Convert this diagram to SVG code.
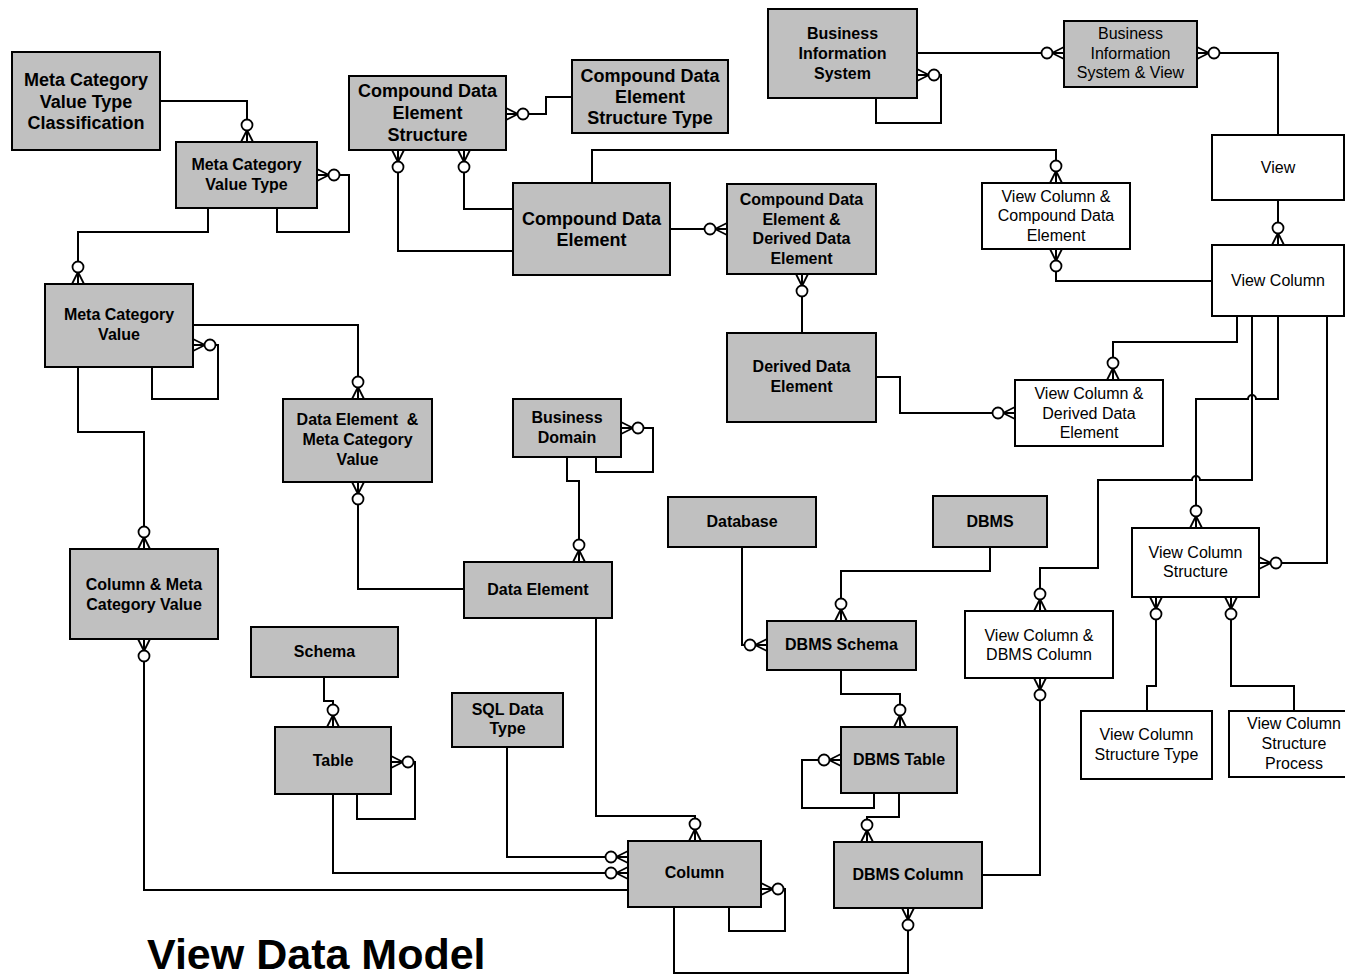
<svg xmlns="http://www.w3.org/2000/svg" xmlns:xlink="http://www.w3.org/1999/xlink" width="1345" height="978" viewBox="0 0 1345 978">
  <style>
    .box { fill: #c0c0c0; stroke: #000; stroke-width: 2; }
    .wbox { fill: #fff; stroke: #000; stroke-width: 2; }
    .lbl { font-family: "Liberation Sans", Arial, sans-serif; font-size: 16px; font-weight: bold; fill: #000; text-anchor: middle; }
    .big { font-size: 18px; }
    .reg { font-weight: normal; }
    .wire { fill: none; stroke: #000; stroke-width: 2; }
    .toe { fill: none; stroke: #000; stroke-width: 1.8; }
    .ring { fill: #fff; stroke: #000; stroke-width: 1.8; }
    .title { font-family: "Liberation Sans", Arial, sans-serif; font-size: 43px; font-weight: bold; fill: #000; }
  </style>
  <defs>
    <!-- zero-or-many end: toes touch the entity edge at the origin, entity lies in +y -->
    <g id="cf">
      <path class="toe" d="M0,-12 L-6,0 M0,-12 L0,0 M0,-12 L6,0"/>
      <circle class="ring" cx="0" cy="-17" r="5.5"/>
    </g>
  </defs>
  <rect width="1345" height="978" fill="#fff"/>

  <g id="connectors">
    <path class="wire" d="M160,101 H247 V142"/>
    <path class="wire" d="M317,175 H349 V232 H277 V208"/>
    <path class="wire" d="M208,208 V232 H78 V284"/>
    <path class="wire" d="M193,345 H218 V399 H152 V367"/>
    <path class="wire" d="M193,325 H358 V399"/>
    <path class="wire" d="M78,367 V432 H144 V549"/>
    <path class="wire" d="M358,482 V589 H464"/>
    <path class="wire" d="M144,639 V890 H628"/>
    <path class="wire" d="M506,114 H546 V97 H572"/>
    <path class="wire" d="M398,150 V251 H513"/>
    <path class="wire" d="M464,150 V209 H513"/>
    <path class="wire" d="M592,183 V150 H1056 V183"/>
    <path class="wire" d="M670,229 H727"/>
    <path class="wire" d="M802,274 V333"/>
    <path class="wire" d="M876,377 H900 V413 H1015"/>
    <path class="wire" d="M1056,249 V281 H1212"/>
    <path class="wire" d="M917,53 H1064"/>
    <path class="wire" d="M917,75 H941 V123 H876 V98"/>
    <path class="wire" d="M1197,53 H1278 V135"/>
    <path class="wire" d="M1278,200 V245"/>
    <path class="wire" d="M1237,316 V342 H1113 V380"/>
    <path class="wire" d="M1278,316 V399 H1256 A4,4 0 0 0 1248,399 H1196 V528"/>
    <path class="wire" d="M1252,316 V480 H1200 A4,4 0 0 0 1192,480 H1098 V568 H1040 V611"/>
    <path class="wire" d="M1327,316 V563 H1259"/>
    <path class="wire" d="M1156,597 V686 H1147 V711"/>
    <path class="wire" d="M1231,597 V686 H1294 V711"/>
    <path class="wire" d="M1040,678 V875 H982"/>
    <path class="wire" d="M990,547 V571 H841 V621"/>
    <path class="wire" d="M742,547 V645 H767"/>
    <path class="wire" d="M841,670 V694 H900 V727"/>
    <path class="wire" d="M841,760 H802 V808 H874 V793"/>
    <path class="wire" d="M899,793 V817 H867 V842"/>
    <path class="wire" d="M908,908 V973 H674 V907"/>
    <path class="wire" d="M596,618 V816 H695 V841"/>
    <path class="wire" d="M507,747 V857 H628"/>
    <path class="wire" d="M333,794 V873 H628"/>
    <path class="wire" d="M761,889 H785 V931 H729 V907"/>
    <path class="wire" d="M324,677 V701 H333 V727"/>
    <path class="wire" d="M391,762 H415 V819 H357 V794"/>
    <path class="wire" d="M621,428 H653 V472 H596 V457"/>
    <path class="wire" d="M567,457 V481 H579 V562"/>

    <use xlink:href="#cf" transform="translate(247,142)"/>
    <use xlink:href="#cf" transform="translate(317,175) rotate(90)"/>
    <use xlink:href="#cf" transform="translate(78,284)"/>
    <use xlink:href="#cf" transform="translate(193,345) rotate(90)"/>
    <use xlink:href="#cf" transform="translate(358,399)"/>
    <use xlink:href="#cf" transform="translate(144,549)"/>
    <use xlink:href="#cf" transform="translate(358,482) rotate(180)"/>
    <use xlink:href="#cf" transform="translate(144,639) rotate(180)"/>
    <use xlink:href="#cf" transform="translate(506,114) rotate(90)"/>
    <use xlink:href="#cf" transform="translate(398,150) rotate(180)"/>
    <use xlink:href="#cf" transform="translate(464,150) rotate(180)"/>
    <use xlink:href="#cf" transform="translate(1056,183)"/>
    <use xlink:href="#cf" transform="translate(727,229) rotate(-90)"/>
    <use xlink:href="#cf" transform="translate(802,274) rotate(180)"/>
    <use xlink:href="#cf" transform="translate(1015,413) rotate(-90)"/>
    <use xlink:href="#cf" transform="translate(1056,249) rotate(180)"/>
    <use xlink:href="#cf" transform="translate(1064,53) rotate(-90)"/>
    <use xlink:href="#cf" transform="translate(917,75) rotate(90)"/>
    <use xlink:href="#cf" transform="translate(1197,53) rotate(90)"/>
    <use xlink:href="#cf" transform="translate(1278,245)"/>
    <use xlink:href="#cf" transform="translate(1113,380)"/>
    <use xlink:href="#cf" transform="translate(1196,528)"/>
    <use xlink:href="#cf" transform="translate(1040,611)"/>
    <use xlink:href="#cf" transform="translate(1259,563) rotate(90)"/>
    <use xlink:href="#cf" transform="translate(1156,597) rotate(180)"/>
    <use xlink:href="#cf" transform="translate(1231,597) rotate(180)"/>
    <use xlink:href="#cf" transform="translate(1040,678) rotate(180)"/>
    <use xlink:href="#cf" transform="translate(841,621)"/>
    <use xlink:href="#cf" transform="translate(767,645) rotate(-90)"/>
    <use xlink:href="#cf" transform="translate(900,727)"/>
    <use xlink:href="#cf" transform="translate(841,760) rotate(-90)"/>
    <use xlink:href="#cf" transform="translate(867,842)"/>
    <use xlink:href="#cf" transform="translate(908,908) rotate(180)"/>
    <use xlink:href="#cf" transform="translate(695,841)"/>
    <use xlink:href="#cf" transform="translate(628,857) rotate(-90)"/>
    <use xlink:href="#cf" transform="translate(628,873) rotate(-90)"/>
    <use xlink:href="#cf" transform="translate(761,889) rotate(90)"/>
    <use xlink:href="#cf" transform="translate(333,727)"/>
    <use xlink:href="#cf" transform="translate(391,762) rotate(90)"/>
    <use xlink:href="#cf" transform="translate(621,428) rotate(90)"/>
    <use xlink:href="#cf" transform="translate(579,562)"/>
  </g>

  <g id="meta-category-value-type-classification">
    <rect class="box" x="12" y="52" width="148" height="98"/>
    <text class="lbl big" x="86" y="86">Meta Category</text>
    <text class="lbl big" x="86" y="107.5">Value Type</text>
    <text class="lbl big" x="86" y="129">Classification</text>
  </g>
  <g id="meta-category-value-type">
    <rect class="box" x="176" y="142" width="141" height="66"/>
    <text class="lbl" x="246.5" y="170">Meta Category</text>
    <text class="lbl" x="246.5" y="190">Value Type</text>
  </g>
  <g id="meta-category-value">
    <rect class="box" x="45" y="284" width="148" height="83"/>
    <text class="lbl" x="119" y="320">Meta Category</text>
    <text class="lbl" x="119" y="339.5">Value</text>
  </g>
  <g id="data-element-meta-category-value">
    <rect class="box" x="283" y="399" width="149" height="83"/>
    <text class="lbl" x="357.5" y="425" xml:space="preserve">Data Element  &amp;</text>
    <text class="lbl" x="357.5" y="445">Meta Category</text>
    <text class="lbl" x="357.5" y="465">Value</text>
  </g>
  <g id="column-meta-category-value">
    <rect class="box" x="70" y="549" width="148" height="90"/>
    <text class="lbl" x="144" y="589.5">Column &amp; Meta</text>
    <text class="lbl" x="144" y="609.5">Category Value</text>
  </g>
  <g id="compound-data-element-structure">
    <rect class="box" x="349" y="76" width="157" height="74"/>
    <text class="lbl big" x="427.5" y="97">Compound Data</text>
    <text class="lbl big" x="427.5" y="118.5">Element</text>
    <text class="lbl big" x="427.5" y="140.5">Structure</text>
  </g>
  <g id="compound-data-element-structure-type">
    <rect class="box" x="572" y="60" width="156" height="73"/>
    <text class="lbl big" x="650" y="81.5">Compound Data</text>
    <text class="lbl big" x="650" y="102.5">Element</text>
    <text class="lbl big" x="650" y="124">Structure Type</text>
  </g>
  <g id="compound-data-element">
    <rect class="box" x="513" y="183" width="157" height="92"/>
    <text class="lbl big" x="591.5" y="224.5">Compound Data</text>
    <text class="lbl big" x="591.5" y="246">Element</text>
  </g>
  <g id="compound-data-element-derived-data-element">
    <rect class="box" x="727" y="184" width="149" height="90"/>
    <text class="lbl" x="801.5" y="205">Compound Data</text>
    <text class="lbl" x="801.5" y="224.7">Element &amp;</text>
    <text class="lbl" x="801.5" y="244.4">Derived Data</text>
    <text class="lbl" x="801.5" y="264.1">Element</text>
  </g>
  <g id="derived-data-element">
    <rect class="box" x="727" y="333" width="149" height="89"/>
    <text class="lbl" x="801.5" y="371.7">Derived Data</text>
    <text class="lbl" x="801.5" y="391.7">Element</text>
  </g>
  <g id="view-column-compound-data-element">
    <rect class="wbox" x="982" y="183" width="148" height="66"/>
    <text class="lbl reg" x="1056" y="201.7">View Column &amp;</text>
    <text class="lbl reg" x="1056" y="221.3">Compound Data</text>
    <text class="lbl reg" x="1056" y="241">Element</text>
  </g>
  <g id="view-column-derived-data-element">
    <rect class="wbox" x="1015" y="380" width="148" height="66"/>
    <text class="lbl reg" x="1089" y="399">View Column &amp;</text>
    <text class="lbl reg" x="1089" y="418.7">Derived Data</text>
    <text class="lbl reg" x="1089" y="438">Element</text>
  </g>
  <g id="business-information-system">
    <rect class="box" x="768" y="9" width="149" height="89"/>
    <text class="lbl" x="842.5" y="39">Business</text>
    <text class="lbl" x="842.5" y="59">Information</text>
    <text class="lbl" x="842.5" y="79">System</text>
  </g>
  <g id="business-information-system-view">
    <rect class="box" x="1064" y="21" width="133" height="66"/>
    <text class="lbl reg" x="1130.5" y="39">Business</text>
    <text class="lbl reg" x="1130.5" y="59">Information</text>
    <text class="lbl reg" x="1130.5" y="78">System &amp; View</text>
  </g>
  <g id="view">
    <rect class="wbox" x="1212" y="135" width="132" height="65"/>
    <text class="lbl reg" x="1278" y="172.5">View</text>
  </g>
  <g id="view-column">
    <rect class="wbox" x="1212" y="245" width="132" height="71"/>
    <text class="lbl reg" x="1278" y="285.5">View Column</text>
  </g>
  <g id="view-column-structure">
    <rect class="wbox" x="1132" y="528" width="127" height="69"/>
    <text class="lbl reg" x="1195.5" y="558.3">View Column</text>
    <text class="lbl reg" x="1195.5" y="577">Structure</text>
  </g>
  <g id="view-column-structure-type">
    <rect class="wbox" x="1081" y="711" width="131" height="68"/>
    <text class="lbl reg" x="1146.5" y="740">View Column</text>
    <text class="lbl reg" x="1146.5" y="760">Structure Type</text>
  </g>
  <g id="view-column-structure-process">
    <rect class="wbox" x="1229" y="711" width="130" height="66"/>
    <text class="lbl reg" x="1294" y="729.3">View Column</text>
    <text class="lbl reg" x="1294" y="749.3">Structure</text>
    <text class="lbl reg" x="1294" y="769">Process</text>
  </g>
  <g id="view-column-dbms-column">
    <rect class="wbox" x="965" y="611" width="148" height="67"/>
    <text class="lbl reg" x="1039" y="640.7">View Column &amp;</text>
    <text class="lbl reg" x="1039" y="660">DBMS Column</text>
  </g>
  <g id="database">
    <rect class="box" x="668" y="497" width="148" height="50"/>
    <text class="lbl" x="742" y="527">Database</text>
  </g>
  <g id="dbms">
    <rect class="box" x="933" y="496" width="114" height="51"/>
    <text class="lbl" x="990" y="526.5">DBMS</text>
  </g>
  <g id="dbms-schema">
    <rect class="box" x="767" y="621" width="149" height="49"/>
    <text class="lbl" x="841.5" y="650">DBMS Schema</text>
  </g>
  <g id="dbms-table">
    <rect class="box" x="841" y="727" width="116" height="66"/>
    <text class="lbl" x="899" y="765">DBMS Table</text>
  </g>
  <g id="dbms-column">
    <rect class="box" x="834" y="842" width="148" height="66"/>
    <text class="lbl" x="908" y="880">DBMS Column</text>
  </g>
  <g id="column">
    <rect class="box" x="628" y="841" width="133" height="66"/>
    <text class="lbl" x="694.5" y="878.3">Column</text>
  </g>
  <g id="schema">
    <rect class="box" x="251" y="627" width="147" height="50"/>
    <text class="lbl" x="324.5" y="656.7">Schema</text>
  </g>
  <g id="table">
    <rect class="box" x="275" y="727" width="116" height="67"/>
    <text class="lbl" x="333" y="765.7">Table</text>
  </g>
  <g id="sql-data-type">
    <rect class="box" x="452" y="693" width="111" height="54"/>
    <text class="lbl" x="507.5" y="715">SQL Data</text>
    <text class="lbl" x="507.5" y="734.3">Type</text>
  </g>
  <g id="business-domain">
    <rect class="box" x="513" y="399" width="108" height="58"/>
    <text class="lbl" x="567" y="423.3">Business</text>
    <text class="lbl" x="567" y="443.3">Domain</text>
  </g>
  <g id="data-element">
    <rect class="box" x="464" y="562" width="148" height="56"/>
    <text class="lbl" x="538" y="595">Data Element</text>
  </g>

  <text class="title" x="147" y="969">View Data Model</text>
</svg>
